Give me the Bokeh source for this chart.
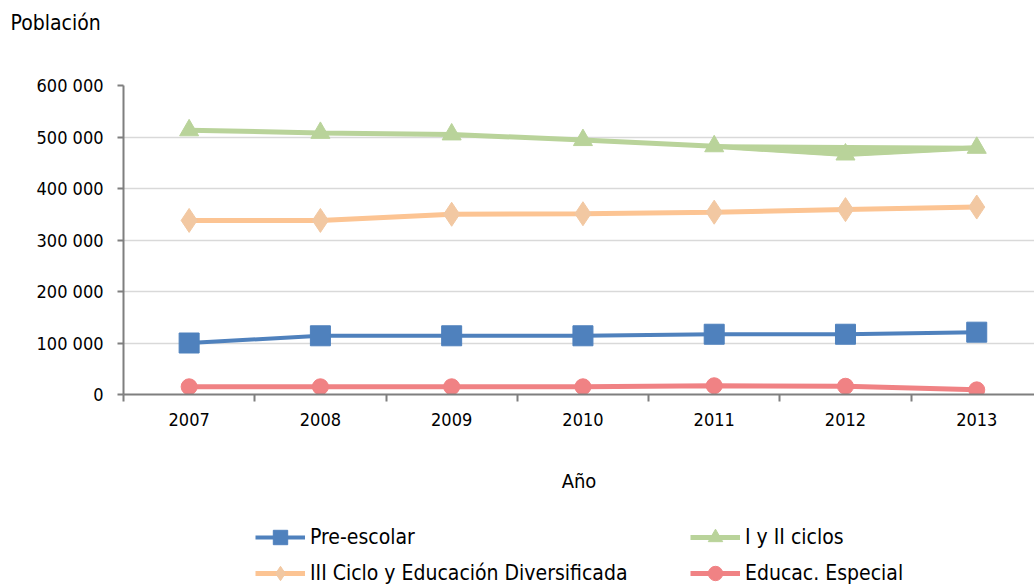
from bokeh.plotting import figure
from bokeh.layouts import column
from bokeh.models import Range1d, FixedTicker, Legend, LegendItem, Title
from bokeh.embed import file_html
from bokeh.resources import INLINE

years = [2007, 2008, 2009, 2010, 2011, 2012, 2013]
preescolar = [100000, 114000, 114000, 114000, 117000, 117000, 121000]
ciclos_1_2 = [513000, 508000, 505000, 494000, 482000, 466000, 479000]
ciclo_3 = [338000, 338000, 350000, 351000, 354000, 359000, 364000]
especial = [15000, 15000, 15000, 15000, 17000, 16000, 9000]
y_ticks = [0, 100000, 200000, 300000, 400000, 500000, 600000]
y_labels = ["0", "100 000", "200 000", "300 000", "400 000", "500 000", "600 000"]
series_names = ["Pre-escolar", "I y II ciclos", "III Ciclo y Educación Diversificada", "Educac. Especial"]

FONT = "DejaVu Sans Condensed"
BLUE = "#4f81bd"
GREEN = "#b9d39a"
ORANGE = "#fcc493"
ORANGE_M = "#f2c8a2"
RED = "#f08284"

styles = {
    "blue": dict(lc=BLUE, lw=4, marker="square", size=20, mc=BLUE),
    "green": dict(lc=GREEN, lw=5, marker="triangle", size=19, mc=GREEN),
    "orange": dict(lc=ORANGE, lw=5, marker="diamond", size=24, mc=ORANGE_M),
    "red": dict(lc=RED, lw=5, marker="circle", size=16, mc=RED),
}
series = {"blue": preescolar, "green": ciclos_1_2, "orange": ciclo_3, "red": especial}

p = figure(width=1034, height=500, output_backend="svg", toolbar_location=None,
           x_range=Range1d(2006.5, 2013.44), y_range=Range1d(0, 600000),
           min_border_left=123, min_border_right=0, min_border_top=85, min_border_bottom=106)
p.outline_line_color = None

p.title.text = "Población"
p.title.text_font = FONT
p.title.text_font_size = "21px"
p.title.text_font_style = "normal"
p.title.text_color = "black"
p.title.align = "left"
p.title.offset = -113
p.title.standoff = 4

# empty spacer panel between the title and the plot area
p.add_layout(Title(text=" ", text_font_size="10px", standoff=36), "above")

xa = p.xaxis[0]
xa.ticker = FixedTicker(ticks=years, minor_ticks=[y - 0.5 for y in years] + [years[-1] + 0.5])
xa.major_tick_out = 0
xa.major_tick_in = 0
xa.minor_tick_out = 7
xa.minor_tick_in = 0
xa.minor_tick_line_color = "#7f7f7f"
xa.minor_tick_line_width = 2
xa.axis_line_color = "#7f7f7f"
xa.axis_line_width = 2
xa.major_label_text_font = FONT
xa.major_label_text_font_size = "18px"
xa.major_label_text_color = "black"
xa.major_label_standoff = 11
xa.axis_label = "Año"
xa.axis_label_text_font = FONT
xa.axis_label_text_font_size = "20px"
xa.axis_label_text_font_style = "normal"
xa.axis_label_text_color = "black"
xa.axis_label_standoff = 40

ya = p.yaxis[0]
ya.ticker = FixedTicker(ticks=y_ticks, minor_ticks=[])
ya.major_label_overrides = {t: l for t, l in zip(y_ticks, y_labels)}
ya.major_tick_out = 6
ya.major_tick_in = 0
ya.major_tick_line_color = "#7f7f7f"
ya.major_tick_line_width = 2
ya.axis_line_color = "#7f7f7f"
ya.axis_line_width = 2
ya.major_label_text_font = FONT
ya.major_label_text_font_size = "18px"
ya.major_label_text_color = "black"
ya.major_label_standoff = 14

p.xgrid.grid_line_color = None
p.ygrid.grid_line_color = "#d9d9d9"
p.ygrid.grid_line_width = 1.5

# green band between 2011 and 2013 (as in the reference rendering)
p.patch(years[4:], ciclos_1_2[4:], fill_color=GREEN, line_color=GREEN, line_width=4)

for key in ["green", "orange", "blue", "red"]:
    s = styles[key]
    vals = series[key]
    p.line(years, vals, line_color=s["lc"], line_width=s["lw"])
    p.scatter(years, vals, marker=s["marker"], size=s["size"], fill_color=s["mc"], line_color=s["mc"])

# legend figure (its frame is aligned with the chart frame by the column layout)
q = figure(width=1034, height=88, output_backend="svg", toolbar_location=None,
           x_range=Range1d(0, 1), y_range=Range1d(0, 1), x_axis_type=None, y_axis_type=None,
           min_border=0)
q.outline_line_color = None
q.xgrid.grid_line_color = None
q.ygrid.grid_line_color = None

def legend_item(name, key):
    s = styles[key]
    vals = series[key]  # out of this figure's visible range; only the legend glyph shows
    rl = q.line(years, vals, line_color=s["lc"], line_width=s["lw"])
    rm = q.scatter(years, vals, marker=s["marker"], size=s["size"], fill_color=s["mc"], line_color=s["mc"])
    return LegendItem(label=name, renderers=[rl, rm])

def make_legend(items, loc):
    return Legend(items=items, location=loc, orientation="vertical",
                  border_line_color=None, background_fill_alpha=0,
                  label_text_font=FONT, label_text_font_size="21px", label_text_color="black",
                  glyph_width=50, glyph_height=36, spacing=0, padding=0, margin=0,
                  label_standoff=5)

leg1 = make_legend([legend_item(series_names[0], "blue"), legend_item(series_names[2], "orange")], (132, -3))
leg2 = make_legend([legend_item(series_names[1], "green"), legend_item(series_names[3], "red")], (567, -3))
q.add_layout(leg1, "center")
q.add_layout(leg2, "center")

layout = column(p, q, spacing=0)
open("out.html", "w").write(file_html(layout, INLINE))
